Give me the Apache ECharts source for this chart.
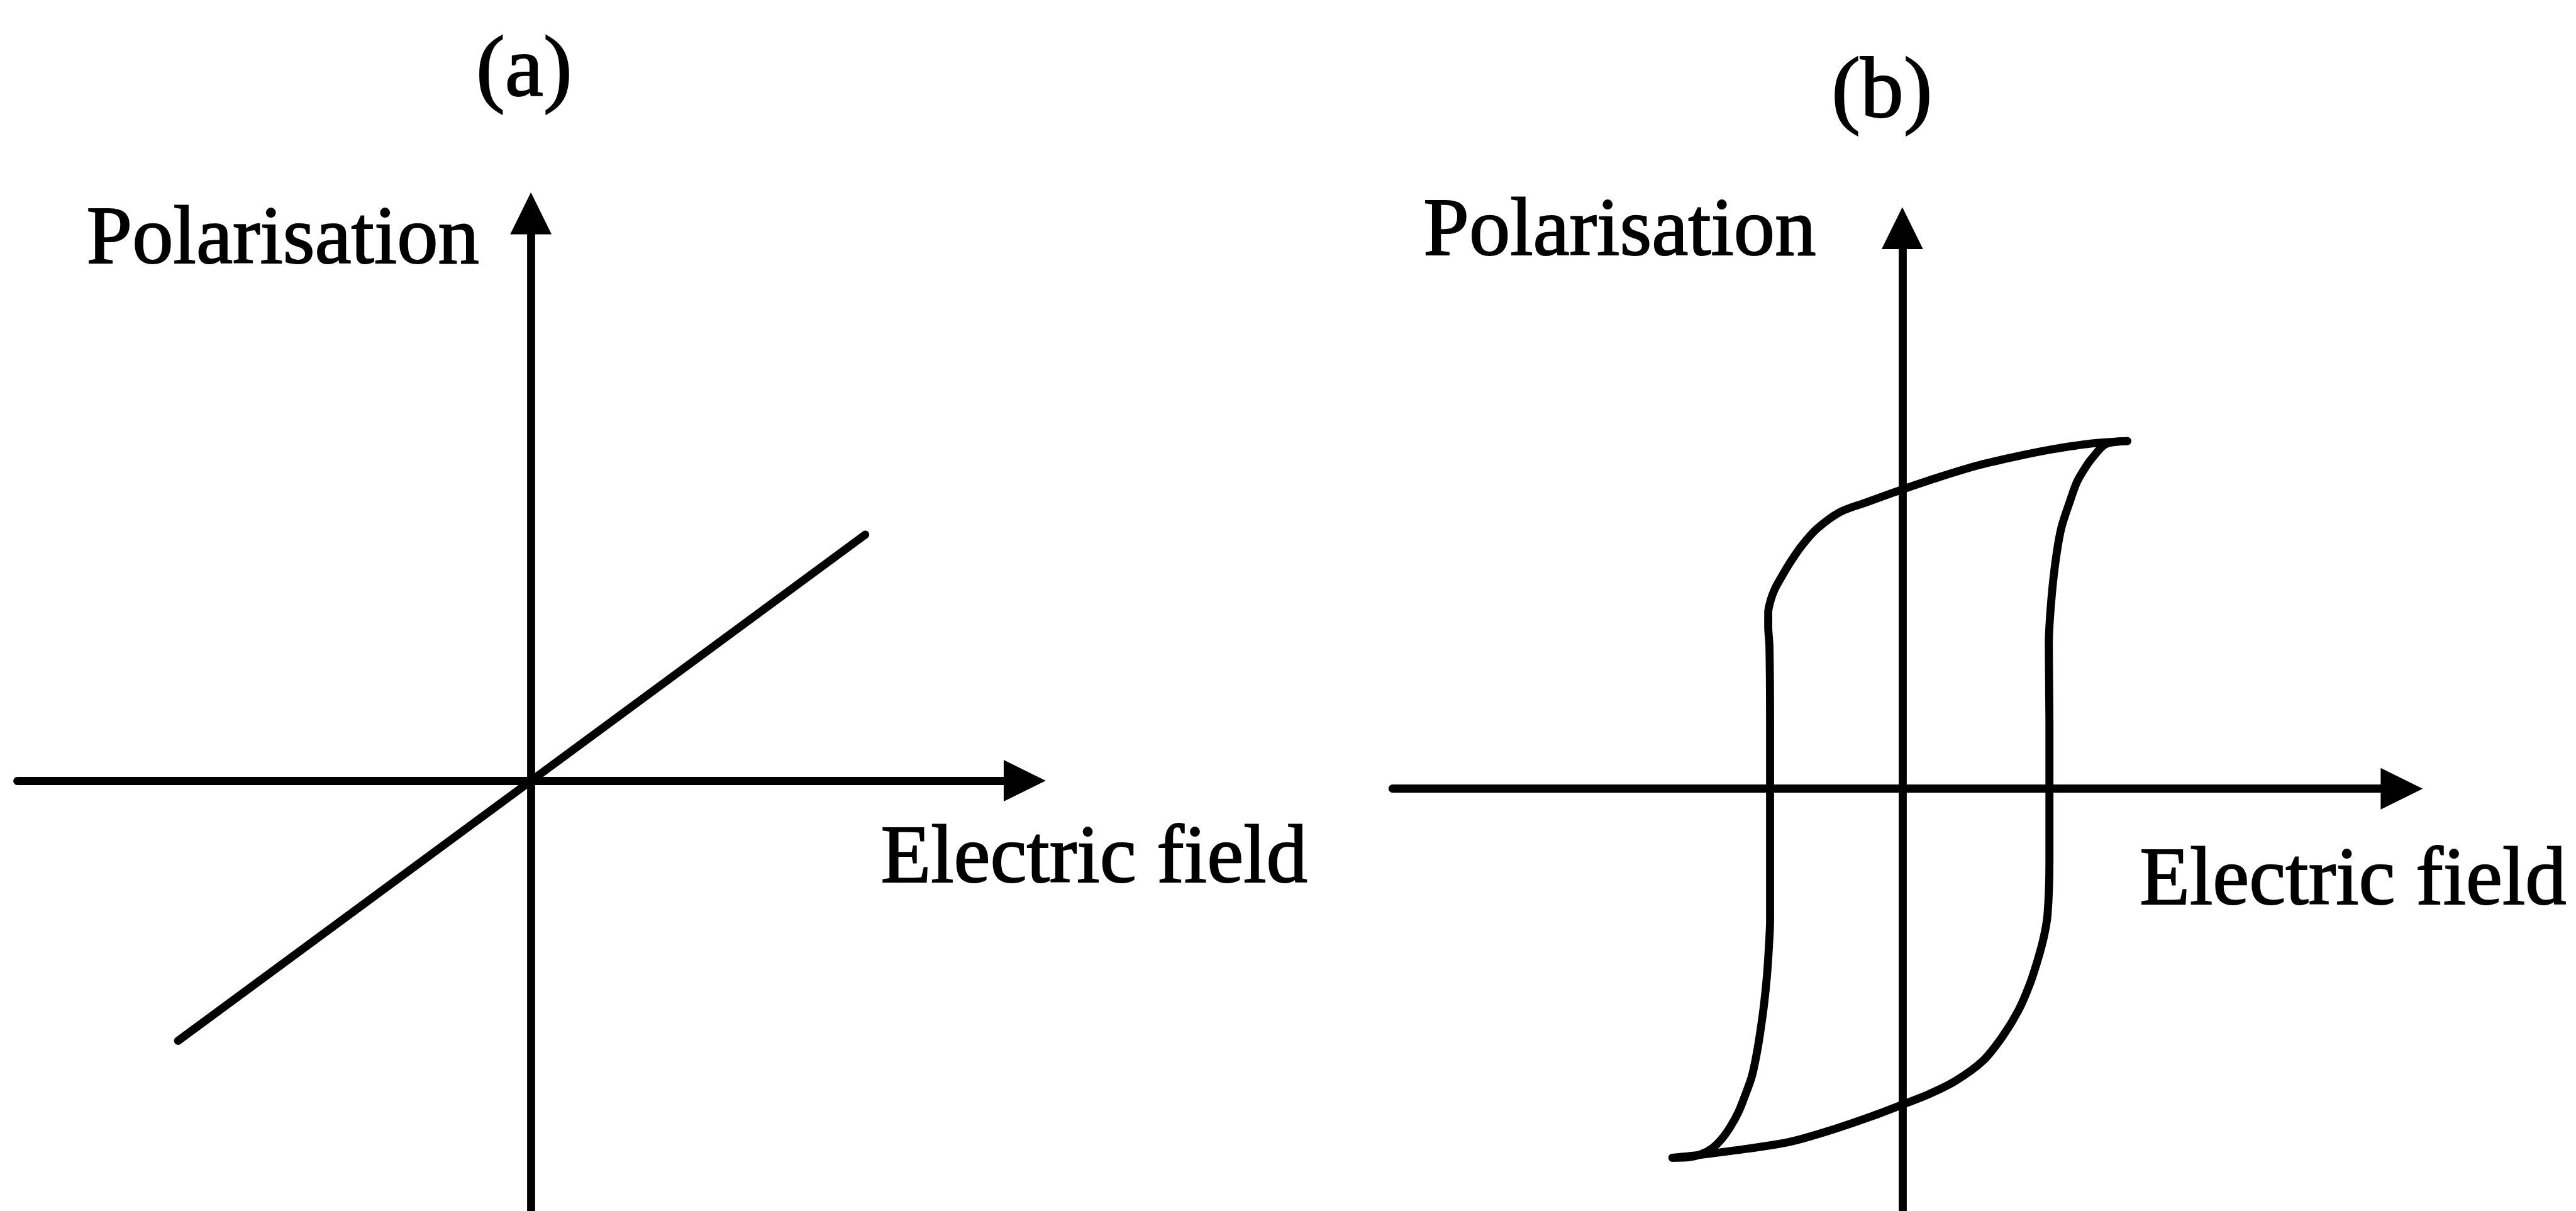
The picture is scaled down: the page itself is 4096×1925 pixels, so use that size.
<!DOCTYPE html>
<html>
<head>
<meta charset="utf-8">
<script src="https://cdn.jsdelivr.net/npm/echarts@6/dist/echarts.min.js"></script>
<style>
  html, body { margin: 0; padding: 0; background: #fff; }
  #chart { width: 4096px; height: 1925px; }
</style>
</head>
<body>
<div id="chart"></div>
<script>
// Panel captions and axis titles
const panelLabels = ['(a)', '(b)'];
const fieldTitle = 'Electric field';
const polarisationTitle = 'Polarisation';

// (a) linear dielectric: polarisation proportional to the applied field
const linearResponse = [[-5.71, -4.25], [5.41, 4.02]];

// (b) ferroelectric hysteresis loop (field, polarisation)
// branch swept from +E max down to -E max
const loopDescending = [
  [3.64, 5.68], [3.05, 5.64], [2.45, 5.55], [1.85, 5.43], [1.25, 5.29],
  [0.62, 5.10], [0.00, 4.89], [-0.58, 4.68], [-1.01, 4.52], [-1.38, 4.25],
  [-1.62, 3.98], [-1.80, 3.72], [-1.95, 3.47], [-2.06, 3.27], [-2.13, 3.08],
  [-2.17, 2.88], [-2.17, 2.65], [-2.15, 2.32], [-2.14, 1.10], [-2.14, -0.15],
  [-2.14, -1.20], [-2.14, -2.15], [-2.16, -2.60], [-2.19, -3.05], [-2.235, -3.50],
  [-2.295, -3.95], [-2.36, -4.35], [-2.435, -4.70], [-2.54, -5.00], [-2.65, -5.28],
  [-2.78, -5.52], [-2.92, -5.72], [-3.07, -5.87], [-3.25, -5.97], [-3.45, -6.02],
  [-3.72, -6.03]
];
// branch swept from -E max back up to +E max
const loopAscending = [
  [-3.72, -6.03], [-3.25, -5.98], [-2.49, -5.88], [-1.82, -5.77], [-1.16, -5.58],
  [-0.49, -5.35], [-0.02, -5.17], [0.41, -5.00], [0.85, -4.78], [1.30, -4.45],
  [1.62, -4.05], [1.88, -3.62], [2.06, -3.20], [2.19, -2.80], [2.29, -2.42],
  [2.35, -2.05], [2.38, -1.20], [2.38, -0.15], [2.38, 1.10], [2.37, 2.35],
  [2.40, 2.95], [2.47, 3.65], [2.57, 4.25], [2.72, 4.72], [2.82, 5.00],
  [2.95, 5.23], [3.07, 5.40], [3.29, 5.63], [3.64, 5.68]
];

// ---- layout (design pixels, scaled to the page by S) ----
const S = 4096 / 4168;
const UNIT = 100;            // design pixels per data unit on both axes
const STROKE = 13 * S;
const panels = [
  { x0: 28,   x1: 1658, ox: 859,  y0: 345, y1: 1975, oy: 1272 },
  { x0: 2253, x1: 3886, ox: 3078, y0: 369, y1: 1975, oy: 1285 }
];

const grid = panels.map(p => ({
  left: p.x0 * S, top: p.y0 * S,
  width: (p.x1 - p.x0) * S, height: (p.y1 - p.y0) * S,
  containLabel: false, show: false
}));

const axisCommon = {
  type: 'value',
  axisLine: {
    show: true, onZero: true,
    symbol: ['none', 'triangle'],
    symbolSize: [67 * S, 68 * S],
    lineStyle: { color: '#000', width: STROKE }
  },
  axisTick: { show: false },
  axisLabel: { show: false },
  splitLine: { show: false }
};

const xAxis = panels.map((p, i) => Object.assign({}, axisCommon, {
  gridIndex: i, min: (p.x0 - p.ox) / UNIT, max: (p.x1 - p.ox) / UNIT
}));
const yAxis = panels.map((p, i) => Object.assign({}, axisCommon, {
  gridIndex: i, min: (p.oy - p.y1) / UNIT, max: (p.oy - p.y0) / UNIT
}));

const curve = (data, idx, smooth) => ({
  type: 'line', xAxisIndex: idx, yAxisIndex: idx, data: data,
  symbol: 'none', smooth: smooth, silent: true, clip: false,
  lineStyle: { color: '#000', width: STROKE, cap: 'round', join: 'round' }
});

const serif = '"Liberation Serif", "Times New Roman", serif';
const textItems = [
  { text: panelLabels[0],     x: 848,  y: 118,  size: 140, align: 'center' },
  { text: panelLabels[1],     x: 3045, y: 153,  size: 140, align: 'center' },
  { text: polarisationTitle,  x: 140,  y: 390,  size: 133, align: 'left' },
  { text: polarisationTitle,  x: 2303, y: 377,  size: 133, align: 'left' },
  { text: fieldTitle,         x: 1425, y: 1392, size: 133, align: 'left' },
  { text: fieldTitle,         x: 3462, y: 1427, size: 133, align: 'left' }
];

const chart = echarts.init(document.getElementById('chart'), null, { renderer: 'canvas' });
chart.setOption({
  backgroundColor: '#fff',
  animation: false,
  grid: grid,
  xAxis: xAxis,
  yAxis: yAxis,
  series: [
    curve(linearResponse, 0, false),
    curve(loopDescending, 1, 0.3),
    curve(loopAscending, 1, 0.3)
  ],
  graphic: textItems.map(t => ({
    type: 'text', x: t.x * S, y: t.y * S, silent: true,
    style: {
      text: t.text, fill: '#000', stroke: '#000', lineWidth: 2,
      font: (t.size * S).toFixed(1) + 'px ' + serif,
      align: t.align, textAlign: t.align,
      verticalAlign: 'middle', textVerticalAlign: 'middle'
    }
  }))
});
</script>
</body>
</html>
